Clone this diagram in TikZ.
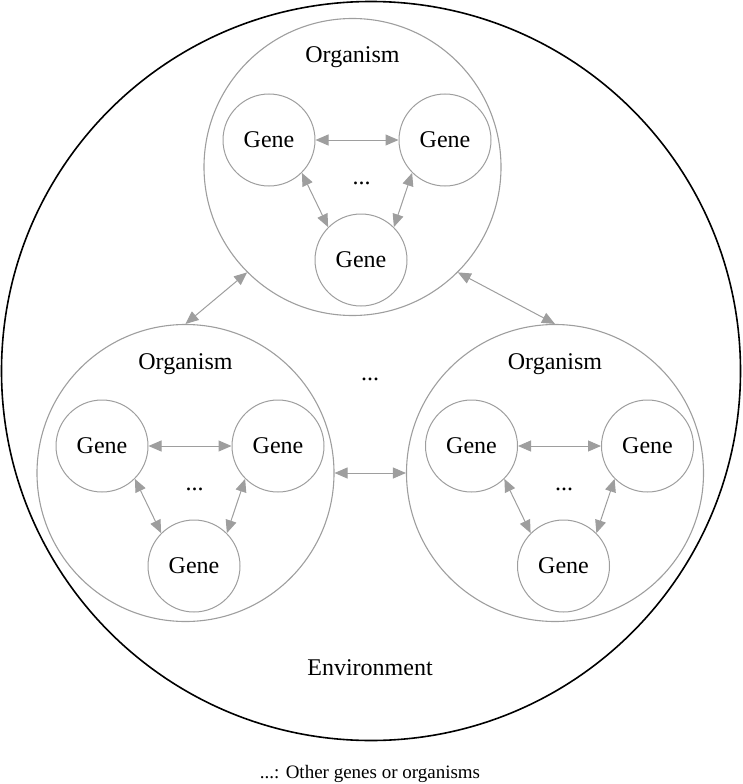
\documentclass[tikz,border=0pt]{standalone}
\usepackage{fontspec}
\setmainfont{Liberation Serif}
\usetikzlibrary{arrows.meta}
\definecolor{edgegray}{RGB}{158,158,158}
\tikzset{
  env/.style={draw=black, line width=1.6pt, circle, inner sep=0pt, minimum size=739pt},
  org/.style={draw=edgegray, line width=1.1pt, circle, inner sep=0pt, minimum size=297pt},
  gene/.style={draw=edgegray, line width=1pt, circle, inner sep=0pt, minimum size=92pt, font=\fontsize{24}{28}\selectfont},
  lbl/.style={inner sep=0pt, font=\fontsize{24}{28}\selectfont},
  captext/.style={inner sep=0pt, font=\fontsize{19}{22}\selectfont},
  conn/.style={draw=edgegray, line width=1pt, {Triangle[length=13pt,width=11pt]}-{Triangle[length=13pt,width=11pt]}}
}
\begin{document}
\begin{tikzpicture}[x=1pt, y=-1pt]
\useasboundingbox (0,0) rectangle (742,784);
\node[env] (envc) at (371,371) {};
\foreach \n/\cx/\cy in {t/352.5/167, l/185.5/473, r/555/473} {
  \node[org] (\n) at (\cx,\cy) {};
  \node[lbl, anchor=base] (\n-title) at (\cx,\cy-104) {Organism};
  \node[gene] (\n-a) at (\cx-83.5,\cy-27) {Gene};
  \node[gene] (\n-b) at (\cx+92.5,\cy-27) {Gene};
  \node[gene] (\n-c) at (\cx+8.5,\cy+93) {Gene};
  \node[lbl, anchor=base] (\n-dots) at (\cx+9,\cy+17) {...};
  \draw[conn] (\n-a.east) -- (\n-b.west);
  \draw[conn] (\n-a.-45) -- (\n-c.135);
  \draw[conn] (\n-b.-135) -- (\n-c.45);
}
\draw[conn] (t.-135) -- (l.north);
\draw[conn] (t.-45) -- (r.north);
\draw[conn] (l.east) -- (r.west);
\node[lbl, anchor=base] (middots) at (370,380) {...};
\node[lbl, anchor=base] (envlabel) at (370,675) {Environment};
\node[captext, anchor=base] (caption) at (370,778) {...: Other genes or organisms};
\end{tikzpicture}
\end{document}
